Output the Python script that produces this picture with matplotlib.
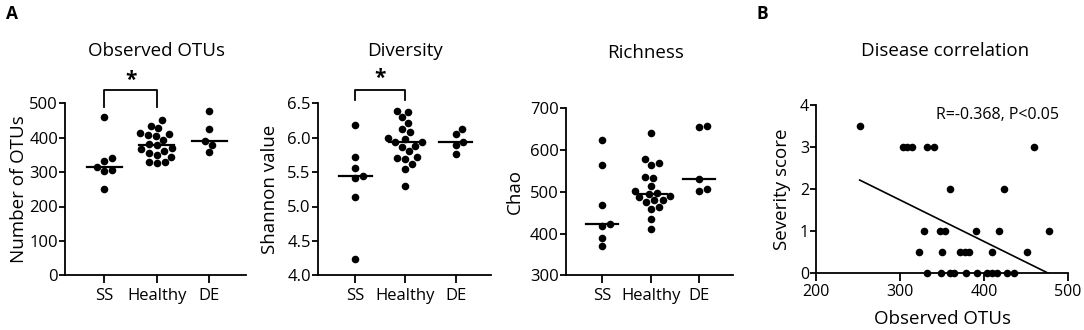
import matplotlib
matplotlib.use("Agg")
import matplotlib.pyplot as plt
import numpy as np

plt.rcParams['font.family'] = ['Open Sans', 'DejaVu Sans']

groups = ['SS', 'Healthy', 'DE']

# Observed OTUs per group
otus_ss = [460, 340, 333, 316, 303, 306, 251]
otus_healthy = [451, 435, 429, 415, 411, 408, 406, 393, 381, 378,
                370, 366, 362, 356, 350, 345, 330, 326, 328]
otus_de = [478, 424, 391, 379, 357]

# Shannon diversity per group
shannon_ss = [6.18, 5.72, 5.56, 5.44, 5.41, 5.14, 4.23]
shannon_healthy = [6.39, 6.38, 6.30, 6.21, 6.12, 6.08, 5.99, 5.98, 5.94, 5.94,
                   5.88, 5.87, 5.80, 5.72, 5.70, 5.69, 5.62, 5.55, 5.30]
shannon_de = [6.13, 6.06, 5.94, 5.89, 5.77]

# Chao richness per group
chao_ss = [625, 565, 469, 422, 419, 390, 369]
chao_healthy = [640, 578, 570, 565, 535, 533, 514, 503, 498, 495,
                490, 487, 480, 480, 475, 463, 459, 435, 411]
chao_de = [658, 656, 531, 503, 507]

# disease correlation: observed OTUs vs severity score
corr_otus = [252,
             304, 308, 314, 332, 340, 460,
             360, 424,
             329, 348, 354, 391, 418, 477,
             323, 350, 371, 377, 382, 409, 451,
             332, 349, 359, 364, 379, 392, 404, 409, 415, 427, 436]
corr_score = [3.5,
              3, 3, 3, 3, 3, 3,
              2, 2,
              1, 1, 1, 1, 1, 1,
              0.5, 0.5, 0.5, 0.5, 0.5, 0.5, 0.5,
              0, 0, 0, 0, 0, 0, 0, 0, 0, 0, 0]
fit_slope = -0.00988
fit_intercept = 4.71
corr_text = 'R=-0.368, P<0.05'

W, H = 1084, 330
fig = plt.figure(figsize=(W / 100, H / 100), dpi=100)


def box(l, t, r, b):
    # pixel box -> figure fraction
    return [l / W, 1 - b / H, (r - l) / W, (b - t) / H]


def style(ax):
    for s in ['top', 'right']:
        ax.spines[s].set_visible(False)
    for s in ['left', 'bottom']:
        ax.spines[s].set_linewidth(1.3)
    ax.tick_params(axis='y', length=4, width=1.3, pad=1, labelsize=12)
    ax.tick_params(axis='x', length=6, width=1.3, pad=3, labelsize=12)


def swarm(ax, x0, values, d=8.2):
    # simple beeswarm in pixel space
    pts = ax.transData.transform(np.column_stack([np.full(len(values), x0), values]))
    ys = pts[:, 1]
    placed = []
    offs = np.zeros(len(values))
    for i in np.argsort(ys):
        y = ys[i]
        cands = [0.0]
        for px, py in placed:
            dy = abs(y - py)
            if dy < d:
                dx = np.sqrt(d * d - dy * dy)
                cands += [px + dx, px - dx]
        cands.sort(key=abs)
        for c in cands:
            if all((c - px) ** 2 + (y - py) ** 2 >= d * d - 1e-3 for px, py in placed):
                break
        placed.append((c, y))
        offs[i] = c
    xs = ax.transData.inverted().transform(np.column_stack([pts[:, 0] + offs, ys]))[:, 0]
    return xs


def dot_panel(rect, data, ylim, yticks, ylabel, labelx):
    ax = fig.add_axes(rect)
    ax.set_xlim(-0.75, 2.7)
    ax.set_ylim(*ylim)
    style(ax)
    for i, vals in enumerate(data):
        xs = swarm(ax, i, vals)
        ax.scatter(xs, vals, s=30, color='black', zorder=3, clip_on=False, linewidths=0)
        ax.plot([i - 0.33, i + 0.33], [np.median(vals)] * 2, color='black', lw=1.6, zorder=4)
    ax.set_xticks(range(len(groups)))
    ax.set_xticklabels(groups)
    ax.set_yticks(yticks)
    ax.set_ylabel(ylabel, fontsize=13.5)
    ax.yaxis.set_label_coords(labelx, 0.5)
    return ax


ax1 = dot_panel(box(65, 103.3, 246, 275.3), [otus_ss, otus_healthy, otus_de],
                (0, 500), [0, 100, 200, 300, 400, 500], 'Number of OTUs', -0.205)
ax1.set_yticklabels(['0', '100', '200', '300', '400', '500'])
ax1.plot([0, 0, 1, 1], [490, 539, 539, 490], color='black', lw=1.3, clip_on=False)
ax1.text(0.5, 565, '*', ha='center', va='center', fontsize=15, fontweight='bold')

ax2 = dot_panel(box(317.7, 103.3, 490.7, 275.3), [shannon_ss, shannon_healthy, shannon_de],
                (4.0, 6.5), [4.0, 4.5, 5.0, 5.5, 6.0, 6.5], 'Shannon value', -0.222)
ax2.set_yticklabels(['4.0', '4.5', '5.0', '5.5', '6.0', '6.5'])
ax2.plot([0, 0, 1, 1], [6.55, 6.695, 6.695, 6.55], color='black', lw=1.3, clip_on=False)
ax2.text(0.5, 6.86, '*', ha='center', va='center', fontsize=15, fontweight='bold')

ax3 = dot_panel(box(565.7, 108.3, 733.3, 275.3), [chao_ss, chao_healthy, chao_de],
                (300, 700), [300, 400, 500, 600, 700], 'Chao', -0.247)

# panel B
ax4 = fig.add_axes(box(816, 105.3, 1068, 273.3))
style(ax4)
ax4.tick_params(labelsize=11.5)
ax4.tick_params(axis='x', pad=1.5)
ax4.set_xlim(200, 500)
ax4.set_ylim(0, 4)
ax4.set_xticks([200, 300, 400, 500])
ax4.set_yticks([0, 1, 2, 3, 4])
ax4.scatter(corr_otus, corr_score, s=30, color='black', zorder=3, clip_on=False, linewidths=0)
fx = np.array([min(corr_otus), max(corr_otus)])
ax4.plot(fx, fit_intercept + fit_slope * fx, color='black', lw=1.2, zorder=2)
ax4.text(343, 3.77, corr_text, ha='left', va='center', fontsize=11.5)
ax4.set_ylabel('Severity score', fontsize=13.5)
ax4.yaxis.set_label_coords(-0.1, 0.5)
ax4.set_xlabel('Observed OTUs', fontsize=13.5)
ax4.xaxis.set_label_coords(0.5, -0.22)

# titles and panel letters
fig.text(156 / W, 1 - 51 / H, 'Observed OTUs', ha='center', va='center', fontsize=13.5)
fig.text(405 / W, 1 - 51 / H, 'Diversity', ha='center', va='center', fontsize=13.5)
fig.text(646 / W, 1 - 53 / H, 'Richness', ha='center', va='center', fontsize=13.5)
fig.text(945 / W, 1 - 51 / H, 'Disease correlation', ha='center', va='center', fontsize=13.5)
fig.text(6 / W, 1 - 14 / H, 'A', ha='left', va='center', fontsize=12.5, fontweight='bold')
fig.text(756 / W, 1 - 14 / H, 'B', ha='left', va='center', fontsize=12.5, fontweight='bold')

fig.savefig('out.png', dpi=100)
